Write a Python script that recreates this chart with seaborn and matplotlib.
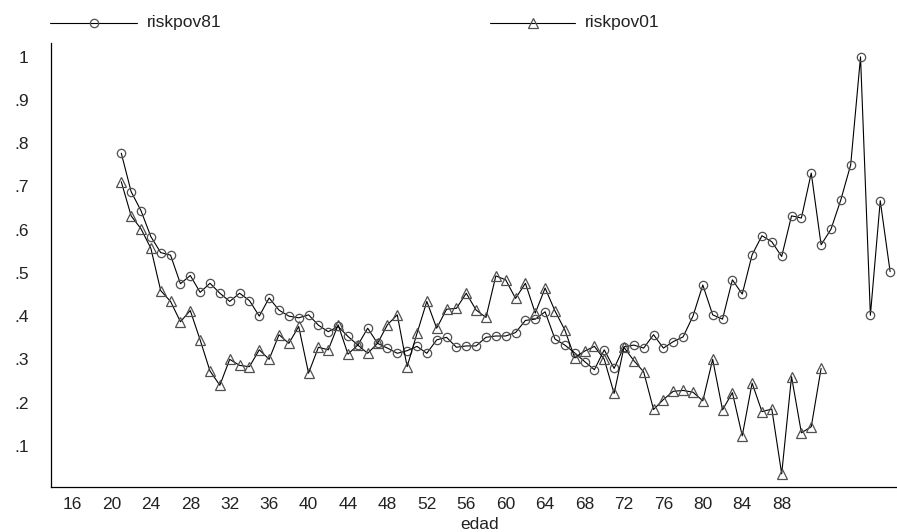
import numpy as np
import pandas as pd
import seaborn as sns
import matplotlib
matplotlib.use("Agg")
import matplotlib.pyplot as plt
from matplotlib.lines import Line2D

# Poverty risk by age, 1981 and 2001
ages81 = list(range(21, 100))
riskpov81 = [
    0.777, 0.688, 0.644, 0.584, 0.547, 0.541, 0.475, 0.494, 0.455, 0.476,
    0.453, 0.434, 0.453, 0.436, 0.400, 0.442, 0.414, 0.400, 0.396, 0.403,
    0.379, 0.364, 0.376, 0.353, 0.333, 0.372, 0.337, 0.326, 0.314, 0.320,
    0.330, 0.314, 0.345, 0.351, 0.328, 0.331, 0.331, 0.351, 0.354, 0.354,
    0.362, 0.390, 0.393, 0.410, 0.347, 0.333, 0.315, 0.295, 0.276, 0.322,
    0.279, 0.329, 0.333, 0.326, 0.357, 0.326, 0.341, 0.352, 0.400, 0.472,
    0.403, 0.393, 0.484, 0.451, 0.542, 0.586, 0.572, 0.538, 0.632, 0.627,
    0.731, 0.565, 0.601, 0.669, 0.750, 1.000, 0.402, 0.667, 0.503,
]
ages01 = list(range(21, 93))
riskpov01 = [
    0.711, 0.632, 0.602, 0.557, 0.459, 0.434, 0.387, 0.413, 0.345, 0.273,
    0.240, 0.300, 0.286, 0.283, 0.322, 0.300, 0.357, 0.337, 0.376, 0.268,
    0.328, 0.322, 0.380, 0.312, 0.333, 0.314, 0.337, 0.380, 0.403, 0.283,
    0.360, 0.434, 0.372, 0.416, 0.418, 0.453, 0.414, 0.397, 0.493, 0.484,
    0.441, 0.476, 0.407, 0.465, 0.412, 0.368, 0.304, 0.319, 0.330, 0.300,
    0.221, 0.328, 0.297, 0.271, 0.184, 0.207, 0.226, 0.228, 0.224, 0.204,
    0.300, 0.183, 0.223, 0.123, 0.245, 0.179, 0.185, 0.035, 0.260, 0.130,
    0.144, 0.279,
]
x_ticks = list(range(16, 89, 4))
y_ticks = [0.1, 0.2, 0.3, 0.4, 0.5, 0.6, 0.7, 0.8, 0.9, 1.0]
y_tick_labels = [".1", ".2", ".3", ".4", ".5", ".6", ".7", ".8", ".9", "1"]
series_names = ["riskpov81", "riskpov01"]

df81 = pd.DataFrame({"edad": ages81, "risk": riskpov81})
df01 = pd.DataFrame({"edad": ages01, "risk": riskpov01})

sns.set_style("white")
plt.rcParams["font.family"] = ["Liberation Sans", "DejaVu Sans"]
text_color = "#222222"
edge_color = "#505050"
fs = 12.5

W, H = 897, 532
fig = plt.figure(figsize=(W / 100, H / 100), dpi=100)
ax = fig.add_axes([51 / W, (H - 487) / H, (W - 51) / W, (487 - 43) / H])

line_kw = dict(color="black", linewidth=0.8, markerfacecolor="none",
               markeredgecolor=edge_color, markeredgewidth=0.9)
sns.lineplot(data=df81, x="edad", y="risk", ax=ax, marker="o",
             markersize=6, **line_kw)
sns.lineplot(data=df01, x="edad", y="risk", ax=ax, marker="^",
             markersize=6.5, **line_kw)

ax.set_xlim(13.87, 99.7)
ax.set_ylim(0.0046, 1.032)
ax.set_xticks(x_ticks)
ax.set_xticklabels([str(t) for t in x_ticks])
ax.set_yticks(y_ticks)
ax.set_yticklabels(y_tick_labels)
ax.tick_params(axis="x", direction="out", length=7, width=0.9,
               colors="black", labelcolor=text_color, labelsize=fs, pad=0.5)
ax.tick_params(axis="y", direction="out", length=13, width=0.9,
               colors="black", labelcolor=text_color, labelsize=fs, pad=3)
ax.set_xlabel("edad", fontsize=fs, color=text_color, va="baseline")
ax.xaxis.set_label_coords((480 - 51) / (W - 51), -(529 - 487) / (487 - 43))
ax.set_ylabel("")
for side in ("top", "right"):
    ax.spines[side].set_visible(False)
for side in ("left", "bottom"):
    ax.spines[side].set_color("black")
    ax.spines[side].set_linewidth(0.9)

# Legend keys across the top
def legend_key(x0, x1, y, marker, ms, label):
    yf = 1 - y / H
    fig.add_artist(Line2D([x0 / W, x1 / W], [yf, yf], color="black",
                          linewidth=0.8, transform=fig.transFigure))
    fig.add_artist(Line2D([(x0 + x1) / 2 / W], [yf], marker=marker,
                          markersize=ms, markerfacecolor="none",
                          markeredgecolor=edge_color, markeredgewidth=0.9,
                          linestyle="none", transform=fig.transFigure))
    fig.text((x1 + 10) / W, yf, label, ha="left", va="center",
             fontsize=fs, color=text_color)

legend_key(50, 137, 23, "o", 6, series_names[0])
legend_key(490, 575, 23, "^", 6.5, series_names[1])

fig.savefig("out.png", dpi=100)
